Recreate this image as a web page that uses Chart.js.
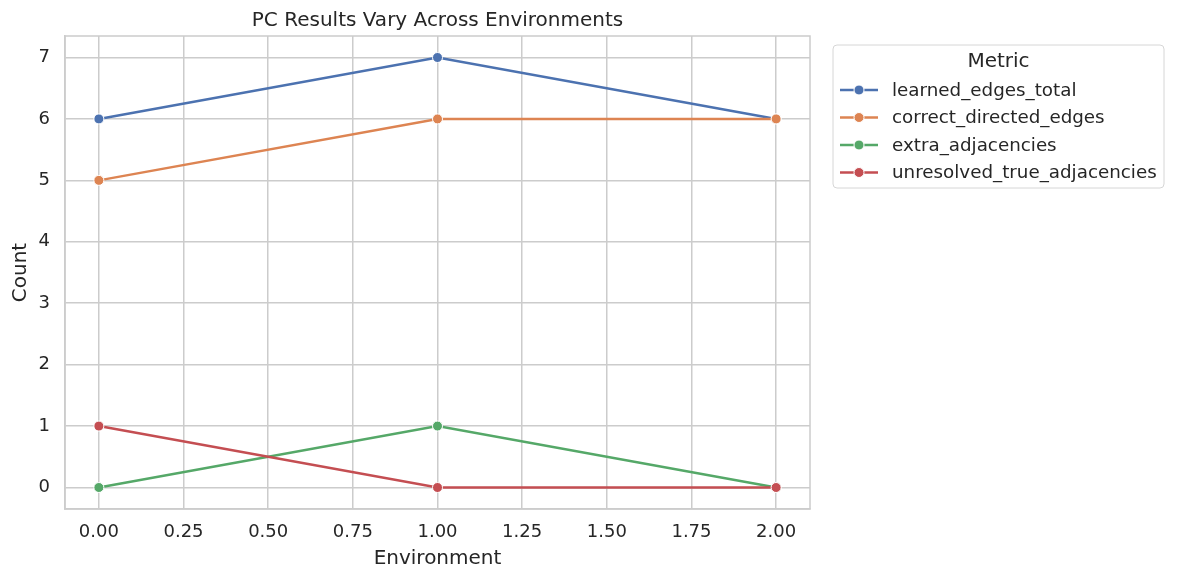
<!DOCTYPE html>
<html>
<head>
<meta charset="utf-8">
<script src="https://cdn.jsdelivr.net/npm/chart.js@4"></script>
<style>
  html, body { margin: 0; padding: 0; background: #fff; }
</style>
</head>
<body>
<canvas id="grafica" width="1177" height="580"></canvas>
<script>
(function(){
  // datos
  const environments = [0, 1, 2];
  const metricNames = ['learned_edges_total', 'correct_directed_edges', 'extra_adjacencies', 'unresolved_true_adjacencies'];
  const learnedEdgesTotal = [6, 7, 6];
  const correctDirectedEdges = [5, 6, 6];
  const extraAdjacencies = [0, 1, 0];
  const unresolvedTrueAdjacencies = [1, 0, 0];
  const xTicks = [0, 0.25, 0.5, 0.75, 1, 1.25, 1.5, 1.75, 2];
  const yTicks = [0, 1, 2, 3, 4, 5, 6, 7];

  const colores = ['#4c72b0', '#dd8452', '#55a868', '#c44e52'];
  const series = [learnedEdgesTotal, correctDirectedEdges, extraAdjacencies, unresolvedTrueAdjacencies];
  const FONT = "'DejaVu Sans', sans-serif";
  const TEXT = '#262626';
  const GRID = '#cccccc';

  // caja alrededor del area y leyenda estilo seaborn
  const marcoYLeyenda = {
    id: 'marcoYLeyenda',
    afterDraw(chart){
      const c = chart.ctx;
      const a = chart.chartArea;
      c.save();
      c.strokeStyle = GRID;
      c.lineWidth = 1.5;
      c.strokeRect(a.left, a.top, a.right - a.left, a.bottom - a.top);

      // leyenda
      const lx = 833, ly = 45, lw = 331, lh = 143, r = 4;
      c.beginPath();
      c.moveTo(lx + r, ly);
      c.arcTo(lx + lw, ly, lx + lw, ly + lh, r);
      c.arcTo(lx + lw, ly + lh, lx, ly + lh, r);
      c.arcTo(lx, ly + lh, lx, ly, r);
      c.arcTo(lx, ly, lx + lw, ly, r);
      c.closePath();
      c.fillStyle = 'rgba(255,255,255,0.8)';
      c.fill();
      c.strokeStyle = '#d6d6d6';
      c.lineWidth = 1;
      c.stroke();

      c.fillStyle = TEXT;
      c.textBaseline = 'middle';
      c.textAlign = 'center';
      c.font = '20px ' + FONT;
      c.fillText('Metric', lx + lw / 2, 62);

      c.textAlign = 'left';
      c.font = '18.3px ' + FONT;
      chart.data.datasets.forEach((ds, i) => {
        const y = 90 + i * 27.5;
        c.strokeStyle = ds.borderColor;
        c.lineWidth = 2.5;
        c.beginPath();
        c.moveTo(840, y);
        c.lineTo(878, y);
        c.stroke();
        c.beginPath();
        c.arc(859, y, 5, 0, Math.PI * 2);
        c.fillStyle = ds.borderColor;
        c.fill();
        c.strokeStyle = '#ffffff';
        c.lineWidth = 1;
        c.stroke();
        c.fillStyle = TEXT;
        c.fillText(ds.label, 892, y + 1);
      });
      c.restore();
    }
  };

  const ctx = document.getElementById('grafica');
  new Chart(ctx, {
    type: 'line',
    data: {
      datasets: metricNames.map((nombre, i) => ({
        label: nombre,
        data: environments.map((e, j) => ({ x: e, y: series[i][j] })),
        borderColor: colores[i],
        backgroundColor: colores[i],
        pointBackgroundColor: colores[i],
        pointBorderColor: '#ffffff',
        pointBorderWidth: 1,
        pointRadius: 5,
        borderWidth: 2.5,
        tension: 0,
        order: metricNames.length - i
      }))
    },
    options: {
      responsive: false,
      animation: false,
      devicePixelRatio: 1,
      layout: { padding: { left: 0, right: 367, top: 0, bottom: 0 } },
      plugins: {
        legend: { display: false },
        tooltip: { enabled: false },
        title: {
          display: true,
          fullSize: false,
          text: 'PC Results Vary Across Environments',
          color: TEXT,
          font: { family: FONT, size: 20, weight: 'normal', lineHeight: 1.2 },
          padding: { top: 9, bottom: 3 }
        }
      },
      scales: {
        x: {
          type: 'linear',
          min: -0.1,
          max: 2.1,
          afterFit: s => { s.height = 71; },
          afterBuildTicks: s => { s.ticks = xTicks.map(v => ({ value: v })); },
          grid: { color: GRID, lineWidth: 1.5, drawTicks: false },
          border: { color: GRID, width: 1.5 },
          ticks: {
            color: TEXT,
            padding: 13,
            font: { family: FONT, size: 18 },
            callback: v => Number(v).toFixed(2)
          },
          title: {
            display: true,
            text: 'Environment',
            color: TEXT,
            font: { family: FONT, size: 20 },
            padding: { top: 4, bottom: 9 }
          }
        },
        y: {
          type: 'linear',
          min: -0.35,
          max: 7.35,
          afterFit: s => { s.width = 65; },
          afterBuildTicks: s => { s.ticks = yTicks.map(v => ({ value: v })); },
          grid: { color: GRID, lineWidth: 1.5, drawTicks: false },
          border: { color: GRID, width: 1.5 },
          ticks: {
            color: TEXT,
            padding: 15,
            font: { family: FONT, size: 18 },
            callback: v => String(v)
          },
          title: {
            display: true,
            text: 'Count',
            color: TEXT,
            font: { family: FONT, size: 20 },
            padding: { top: 9, bottom: 4 }
          }
        }
      }
    },
    plugins: [marcoYLeyenda]
  });
})();
</script>
</body>
</html>
